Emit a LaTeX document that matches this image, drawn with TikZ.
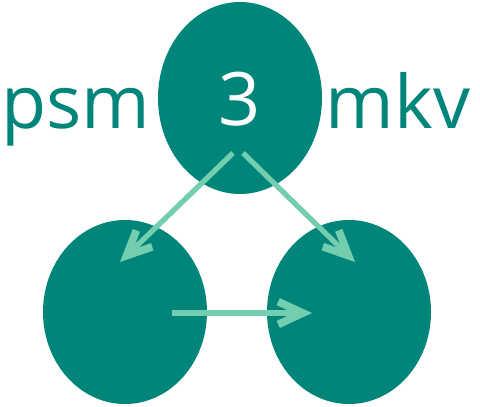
\documentclass[tikz,border=0pt]{standalone}
\usepackage{fontspec}
\setmainfont{Open Sans}
\usetikzlibrary{arrows.meta,shapes.geometric}
\definecolor{teal}{RGB}{0,133,122}
\definecolor{mint}{RGB}{115,205,175}
\begin{document}
\begin{tikzpicture}[
  blob/.style={ellipse, fill=teal, inner sep=0pt},
  link/.style={mint, line width=1.5pt, -{Straight Barb[length=7pt,width=6.5pt,line width=2.2pt]}},
  every node/.style={font=\fontsize{21}{24}\selectfont}]
  \useasboundingbox (0,0) rectangle (4.80,4.06);
  \node[blob, minimum width=1.64cm, minimum height=1.92cm] (top) at (2.40,3.08) {};
  \node[blob, minimum width=1.64cm, minimum height=1.84cm] (left) at (1.25,0.94) {};
  \node[blob, minimum width=1.64cm, minimum height=1.84cm] (right) at (3.49,0.94) {};
  \node[anchor=base, text=white] (three) at (2.40,2.81) {3};
  \node[anchor=base east, text=teal, inner sep=0pt] (psm) at (1.51,2.78) {psm};
  \node[anchor=base west, text=teal, inner sep=0pt] (mkv) at (3.25,2.78) {mkv};
  \coordinate (a1) at (2.33,2.53);
  \coordinate (a2) at (1.20,1.44);
  \coordinate (b1) at (2.43,2.53);
  \coordinate (b2) at (3.55,1.44);
  \coordinate (c1) at (1.72,0.93);
  \coordinate (c2) at (3.12,0.93);
  \draw[link] (a1) -- (a2);
  \draw[link] (b1) -- (b2);
  \draw[link] (c1) -- (c2);
\end{tikzpicture}
\end{document}
